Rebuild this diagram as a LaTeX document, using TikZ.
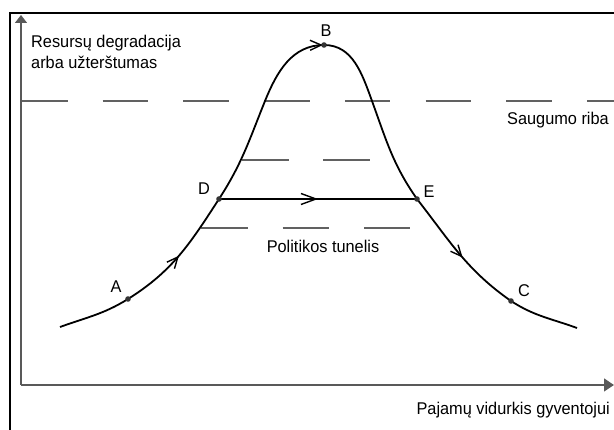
\documentclass[tikz,border=0pt]{standalone}
\usepackage{fontspec}
\setmainfont{Liberation Sans}
\usetikzlibrary{arrows.meta,decorations.markings}
\newcommand{\cond}[1]{\scalebox{0.96}[1]{#1}}
\tikzset{
  lbl/.style={inner sep=0pt,font=\fontsize{17}{21}\selectfont},
  curveline/.style={line width=1.8pt,black},
  dashline/.style={line width=1.1pt,draw=black!62},
  axisline/.style={line width=1.3pt,draw=black!65},
  ptdot/.style={fill=black!80},
  barbtip/.tip={Straight Barb[length=11pt,width=10pt,line width=1.4pt]},
  longbarbtip/.tip={Straight Barb[length=15pt,width=11pt,line width=1.4pt]}
}
\begin{document}
\begin{tikzpicture}[x=1pt,y=1pt]
\useasboundingbox (0,0) rectangle (614,430);
% frame
\draw[line width=2.4pt,black] (10,0) -- (10,417) -- (614,417);
% axes
\coordinate (O) at (21,45);
\coordinate (ytop) at (21,415);
\coordinate (xend) at (614,45);
\draw[axisline,-{Triangle[length=8pt,width=12pt]}] (O) -- (ytop);
\draw[axisline,-{Triangle[length=10pt,width=13pt]}] (O) -- (xend);
% dashed lines
\coordinate (s1) at (22,329); \coordinate (s2) at (614,329);
\draw[dashline,dash pattern=on 45.5pt off 35.2pt] (s1) -- (s2);
\coordinate (m1) at (242,270); \coordinate (m2) at (371,270);
\draw[dashline,dash pattern=on 47pt off 34pt] (m1) -- (m2);
\coordinate (l1) at (201,202); \coordinate (l2) at (410,202);
\draw[dashline,dash pattern=on 46.5pt off 35pt] (l1) -- (l2);
% key points
\coordinate (A) at (128,131);
\coordinate (B) at (324,385);
\coordinate (C) at (511,129);
\coordinate (D) at (219,231);
\coordinate (E) at (417,231);
\coordinate (P1) at (265,329);
\coordinate (P2) at (372,329);
\coordinate (start) at (60,103);
\coordinate (finish) at (577,102);
% curve
\draw[curveline,postaction={decorate},decoration={markings,
   mark=at position 0.175 with {\arrow{barbtip}},
   mark=at position 0.503 with {\arrow{barbtip}},
   mark=at position 0.83 with {\arrow{barbtip}}}]
  (start) to[out=20,in=212] (A)
          to[out=32,in=237] (D)
          to[out=57,in=248] (P1)
          to[out=68,in=180] (B)
          to[out=0,in=110] (P2)
          to[out=-70,in=125] (E)
          to[out=-52,in=145] (C)
          to[out=-33,in=160] (finish);
% tunnel line
\draw[curveline,postaction={decorate},decoration={markings,
   mark=at position 0.5 with {\arrow{longbarbtip}}}]
  (D) -- (E);
% dots
\foreach \p in {A,B,C,D,E} \fill[ptdot] (\p) circle (2.8pt);
% point labels
\node[lbl] (lA) at (116,143) {\cond{A}};
\node[lbl] (lB) at (326,399) {\cond{B}};
\node[lbl] (lC) at (524,139) {\cond{C}};
\node[lbl] (lD) at (204,241) {\cond{D}};
\node[lbl] (lE) at (429,238) {\cond{E}};
% texts
\node[lbl,anchor=base west] (ylab1) at (31,382) {\cond{Resursų degradacija}};
\node[lbl,anchor=base west] (ylab2) at (31,361) {\cond{arba užterštumas}};
\node[lbl,anchor=east] (safe) at (609,310) {\cond{Saugumo riba}};
\node[lbl] (tun) at (323,184) {\cond{Politikos tunelis}};
\node[lbl,anchor=east] (xlab) at (610,20) {\cond{Pajamų vidurkis gyventojui}};
\end{tikzpicture}
\end{document}
